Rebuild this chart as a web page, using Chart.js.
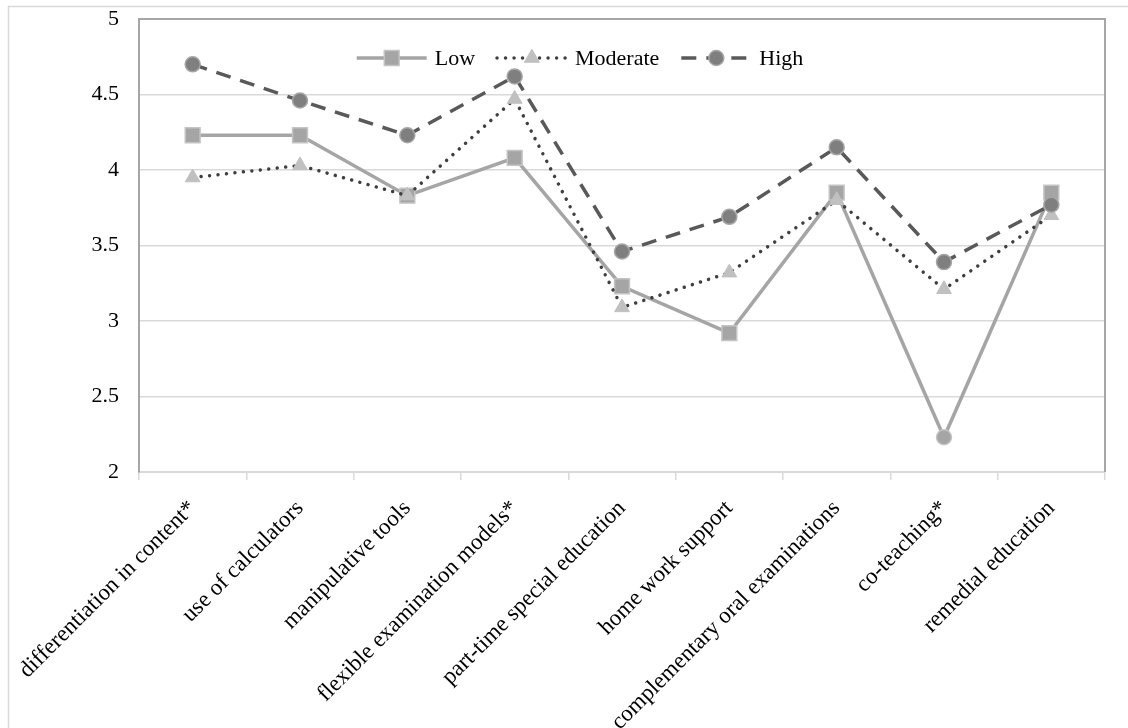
<!DOCTYPE html>
<html>
<head>
<meta charset="utf-8">
<script src="https://cdn.jsdelivr.net/npm/chart.js@4"></script>
<style>
  html, body { margin: 0; padding: 0; background: #fff; }
  #wrap { width: 1128px; height: 728px; }
</style>
</head>
<body>
<div id="wrap"><canvas id="lineChart" width="1128" height="728"></canvas></div>
<script>
// categories and values
const categories = [
    'differentiation in content*',
    'use of calculators',
    'manipulative tools',
    'flexible examination models*',
    'part-time special education',
    'home work support',
    'complementary oral examinations',
    'co-teaching*',
    'remedial education'
];
const lowValues = [4.23, 4.23, 3.83, 4.08, 3.23, 2.92, 3.85, 2.23, 3.85];
const moderateValues = [3.95, 4.03, 3.83, 4.47, 3.09, 3.32, 3.80, 3.21, 3.70];
const highValues = [4.70, 4.46, 4.23, 4.62, 3.46, 3.69, 4.15, 3.39, 3.77];
const seriesNames = ['Low', 'Moderate', 'High'];

const FONT = '"Liberation Serif", "Times New Roman", serif';

// the Low point at co-teaching is drawn as a circle in the original
const lowStyles = lowValues.map((v, i) => i === 7 ? 'circle' : 'rect');
const lowRadius = lowValues.map((v, i) => i === 7 ? 7.5 : 10.5);

// frame around the figure + top/right border of the plot
const framePlugin = {
    id: 'frame',
    beforeDraw(chart) {
        const ctx = chart.ctx;
        ctx.save();
        ctx.fillStyle = '#fff';
        ctx.fillRect(0, 0, chart.width, chart.height);
        ctx.strokeStyle = '#d9d9d9';
        ctx.lineWidth = 1.5;
        ctx.strokeRect(8.5, 6.5, chart.width + 20, chart.height + 20);
        ctx.restore();
    },
    beforeDatasetsDraw(chart) {
        const a = chart.chartArea;
        const ctx = chart.ctx;
        ctx.save();
        ctx.strokeStyle = '#a6a6a6';
        ctx.lineWidth = 2;
        ctx.beginPath();
        ctx.moveTo(a.left, a.top);
        ctx.lineTo(a.right, a.top);
        ctx.lineTo(a.right, a.bottom);
        ctx.stroke();
        ctx.restore();
    }
};

// legend with a line sample and marker, like the office chart
const lineLegend = {
    id: 'lineLegend',
    afterDatasetsDraw(chart) {
        const ctx = chart.ctx;
        const y = 58;
        const sample = 70, gap = 8, spacing = 22;
        ctx.save();
        ctx.font = '22px ' + FONT;
        const widths = seriesNames.map(n => ctx.measureText(n).width);
        let total = 0;
        widths.forEach(w => total += sample + gap + w);
        total += spacing * (seriesNames.length - 1);
        let x = chart.width / 2 + 16 - total / 2;
        chart.data.datasets.forEach((ds, i) => {
            ctx.save();
            ctx.strokeStyle = ds.borderColor;
            ctx.lineWidth = ds.borderWidth;
            ctx.lineCap = ds.borderCapStyle || 'butt';
            ctx.setLineDash(ds.borderDash || []);
            ctx.beginPath();
            ctx.moveTo(x, y);
            ctx.lineTo(x + sample, y);
            ctx.stroke();
            ctx.setLineDash([]);
            ctx.fillStyle = ds.pointBackgroundColor;
            ctx.strokeStyle = ds.pointBorderColor;
            ctx.lineWidth = ds.pointBorderWidth;
            const style = Array.isArray(ds.pointStyle) ? ds.pointStyle[0] : ds.pointStyle;
            const r = Array.isArray(ds.pointRadius) ? ds.pointRadius[0] : ds.pointRadius;
            Chart.helpers.drawPoint(ctx, { pointStyle: style, radius: r, borderWidth: ds.pointBorderWidth }, x + sample / 2, y);
            ctx.restore();
            ctx.fillStyle = '#000';
            ctx.textBaseline = 'middle';
            ctx.fillText(seriesNames[i], x + sample + gap, y + 1);
            x += sample + gap + widths[i] + spacing;
        });
        ctx.restore();
    }
};

new Chart(document.getElementById('lineChart'), {
    type: 'line',
    data: {
        labels: categories,
        datasets: [{
            label: seriesNames[0],
            data: lowValues,
            order: 2,
            borderColor: '#a5a5a5',
            borderWidth: 3.5,
            pointStyle: lowStyles,
            pointRadius: lowRadius,
            pointBackgroundColor: '#a5a5a5',
            pointBorderColor: '#c4c4c4',
            pointBorderWidth: 1.5,
            tension: 0,
            fill: false
        }, {
            label: seriesNames[1],
            data: moderateValues,
            order: 1,
            borderColor: '#3f3f3f',
            borderWidth: 3.5,
            borderDash: [0.01, 8.5],
            borderCapStyle: 'round',
            pointStyle: 'triangle',
            pointRadius: 8.5,
            pointBackgroundColor: '#c0c0c0',
            pointBorderColor: '#c0c0c0',
            pointBorderWidth: 1,
            tension: 0,
            fill: false
        }, {
            label: seriesNames[2],
            data: highValues,
            order: 0,
            borderColor: '#595959',
            borderWidth: 3.5,
            borderDash: [15, 10],
            pointStyle: 'circle',
            pointRadius: 7.5,
            pointBackgroundColor: '#7f7f7f',
            pointBorderColor: '#a6a6a6',
            pointBorderWidth: 1.5,
            tension: 0,
            fill: false
        }]
    },
    options: {
        responsive: false,
        animation: false,
        layout: { padding: { top: 19, right: 23, bottom: 0, left: 0 } },
        plugins: {
            legend: { display: false },
            tooltip: { enabled: false }
        },
        scales: {
            x: {
                offset: true,
                grid: {
                    offset: true,
                    drawOnChartArea: false,
                    drawTicks: true,
                    tickLength: 8,
                    color: '#d9d9d9',
                    lineWidth: 1.5
                },
                border: { display: true, color: '#d9d9d9', width: 2 },
                ticks: {
                    autoSkip: false,
                    minRotation: 45,
                    maxRotation: 45,
                    padding: 15,
                    color: '#000',
                    font: { family: FONT, size: 23 }
                },
                afterFit(scale) { scale.height = 256; }
            },
            y: {
                min: 2,
                max: 5,
                ticks: {
                    stepSize: 0.5,
                    padding: 20,
                    color: '#000',
                    font: { family: FONT, size: 22 },
                    callback: (v) => String(Number(v))
                },
                grid: { color: '#d9d9d9', lineWidth: 1.5, drawTicks: false },
                border: { display: true, color: '#a6a6a6', width: 2 },
                afterFit(scale) {
                    scale.width = 139;
                    scale.paddingTop = 0;
                    scale.paddingBottom = 0;
                }
            }
        }
    },
    plugins: [framePlugin, lineLegend]
});
</script>
</body>
</html>
